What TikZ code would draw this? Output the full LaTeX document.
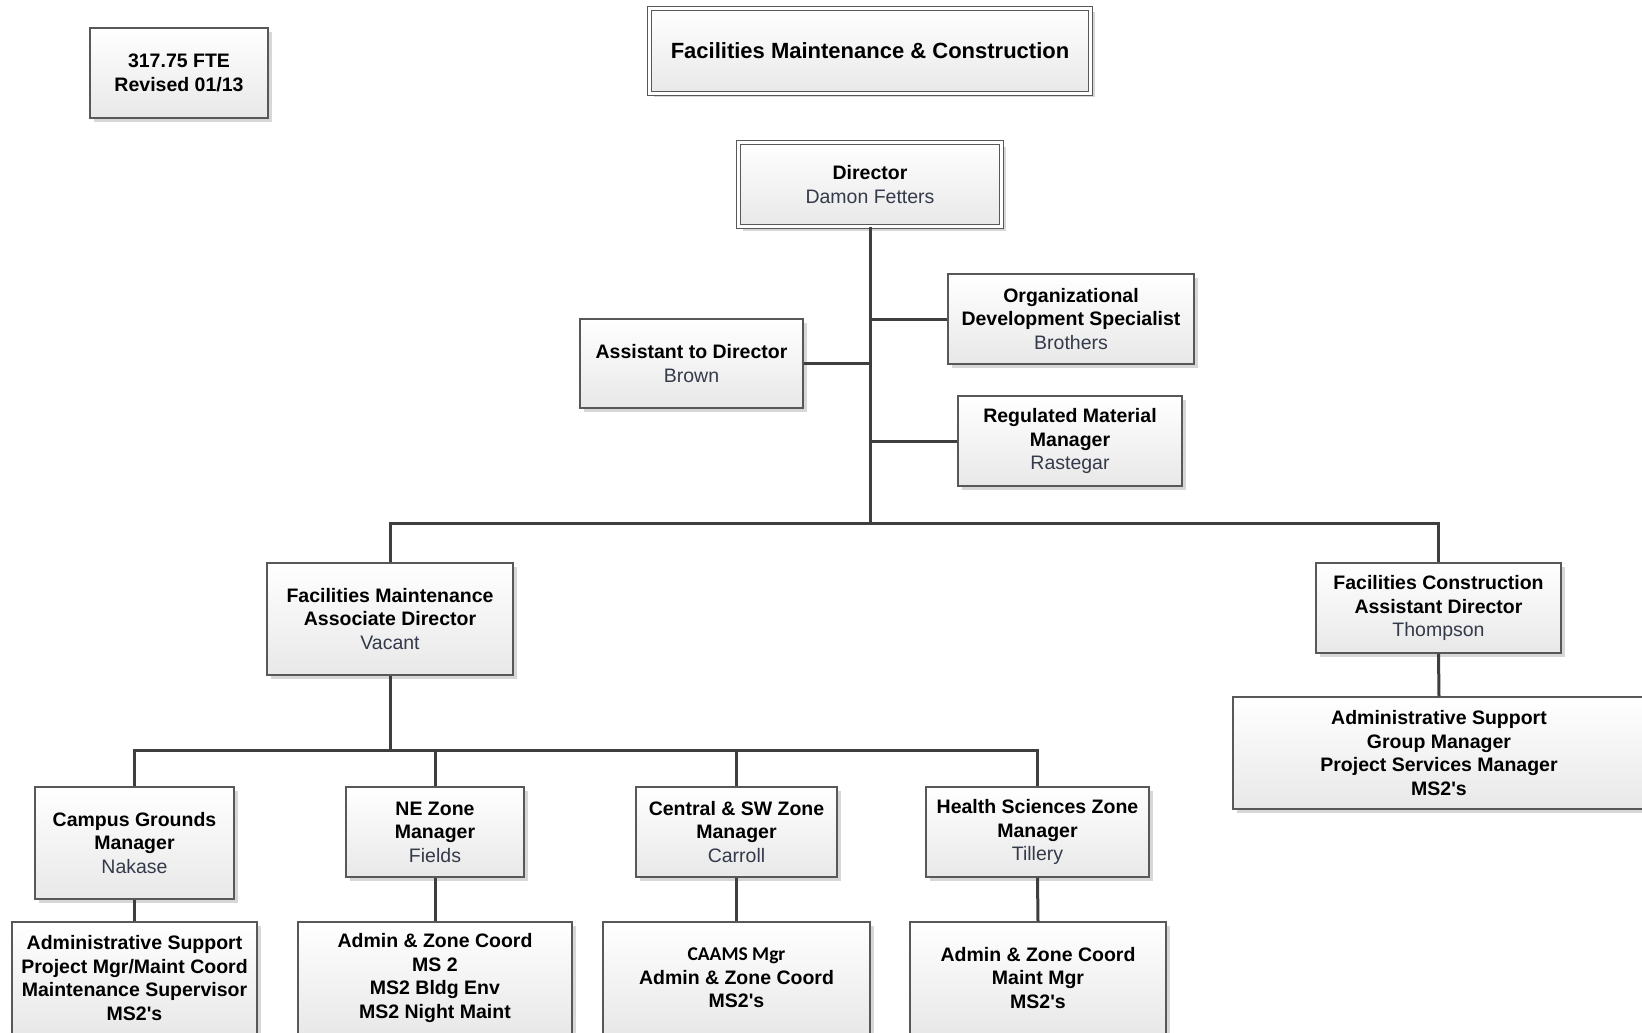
\documentclass[tikz,border=0pt]{standalone}
\usepackage{fontspec}
\setmainfont{Liberation Sans}
\newfontfamily\calibrifont{Carlito}
\usetikzlibrary{shadows}

\definecolor{namecol}{RGB}{52,58,74}
\definecolor{edgecol}{RGB}{88,88,88}
\definecolor{linkcol}{RGB}{62,62,62}

% person's name under a job title
\newcommand\pname[1]{{\mdseries\color{namecol}#1}}
% plural of MS2 with a straight apostrophe
\newcommand\mstwos{MS2\textquotesingle s}

\tikzset{
  card/.style={draw=edgecol, line width=1.4pt, top color=white, bottom color=black!9,
    inner sep=0pt, align=center, font=\bfseries\fontsize{19.5}{23.5}\selectfont,
    drop shadow={shadow xshift=4pt, shadow yshift=-4pt, fill=black!22, opacity=0.7}},
  headcard/.style={card, double=white, double distance=3pt, line width=1.1pt},
  sz/.style 2 args={minimum width=#1pt, minimum height=#2pt},
  link/.style={draw=linkcol, line width=3pt},
}

\begin{document}
\begin{tikzpicture}[x=1pt, y=-1pt]
  \useasboundingbox (0,0) rectangle (1642,1033);
  \fill[white] (0,0) rectangle (1642,1033);
  \clip (0,0) rectangle (1642,1033);

  % header and director
  \node[card, sz={178}{90}] (fte) at (179,73) {317.75 FTE\\Revised 01/13};
  \node[headcard, sz={441}{85}, font=\bfseries\fontsize{22}{26}\selectfont] (title) at (870,51)
    {Facilities Maintenance \& Construction};
  \node[headcard, sz={263}{84}] (dir) at (870,184.5) {Director\\\pname{Damon Fetters}};

  % staff reporting to the director
  \node[card, sz={223}{89}] (asst) at (691.5,363.5) {Assistant to Director\\\pname{Brown}};
  \node[card, sz={246}{90}] (org) at (1071,319) {Organizational\\Development Specialist\\\pname{Brothers}};
  \node[card, sz={224}{90}] (reg) at (1070,441) {Regulated Material\\Manager\\\pname{Rastegar}};

  % associate / assistant directors
  \node[card, sz={246}{112}] (fmad) at (390,619) {Facilities Maintenance\\Associate Director\\\pname{Vacant}};
  \node[card, sz={245}{90}] (fcad) at (1438.5,608) {Facilities Construction\\Assistant Director\\\pname{Thompson}};
  \node[card, sz={412}{112}] (asg) at (1439,753) {Administrative Support\\Group Manager\\Project Services Manager\\\mstwos};

  % zone managers
  \node[card, sz={199}{112}] (cg) at (134.5,843) {Campus Grounds\\Manager\\\pname{Nakase}};
  \node[card, sz={178}{90}] (ne) at (435,832) {NE Zone\\Manager\\\pname{Fields}};
  \node[card, sz={201}{90}] (csw) at (736.5,832) {Central \& SW Zone\\Manager\\\pname{Carroll}};
  \node[card, sz={223}{90}] (hs) at (1037.5,832) {Health Sciences Zone\\Manager\\\pname{Tillery}};

  % staff groups under each zone
  \node[card, sz={245}{112}] (cgstaff) at (134.5,978)
    {Administrative Support\\Project Mgr/Maint Coord\\Maintenance Supervisor\\\mstwos};
  \node[card, sz={274}{112}] (nestaff) at (435,978)
    {Admin \& Zone Coord\\MS 2\\MS2 Bldg Env\\MS2 Night Maint};
  \node[card, sz={267}{112}] (cswstaff) at (736.5,978)
    {{\calibrifont CAAMS Mgr}\\Admin \& Zone Coord\\\mstwos};
  \node[card, sz={256}{112}] (hsstaff) at (1038,978)
    {Admin \& Zone Coord\\Maint Mgr\\\mstwos};

  % connectors
  \coordinate (bus) at (870,523);
  \coordinate (lbus) at (390,750);
  \draw[link] (dir.south) -- (bus);
  \draw[link] (asst.east) -- (asst.east -| dir.south);
  \draw[link] (org.west) -- (org.west -| dir.south);
  \draw[link] (reg.west) -- (reg.west -| dir.south);
  \draw[link] (fmad.north) |- (bus) -| (fcad.north);
  \draw[link] (fcad.south) -- (asg.north);
  \draw[link] (fmad.south) -- (lbus);
  \draw[link] (cg.north) |- (lbus) -| (hs.north);
  \draw[link] (ne.north) -- (ne.north |- lbus);
  \draw[link] (csw.north) -- (csw.north |- lbus);
  \draw[link] (cg.south) -- (cgstaff.north);
  \draw[link] (ne.south) -- (nestaff.north);
  \draw[link] (csw.south) -- (cswstaff.north);
  \draw[link] (hs.south) -- (hsstaff.north);
\end{tikzpicture}
\end{document}
